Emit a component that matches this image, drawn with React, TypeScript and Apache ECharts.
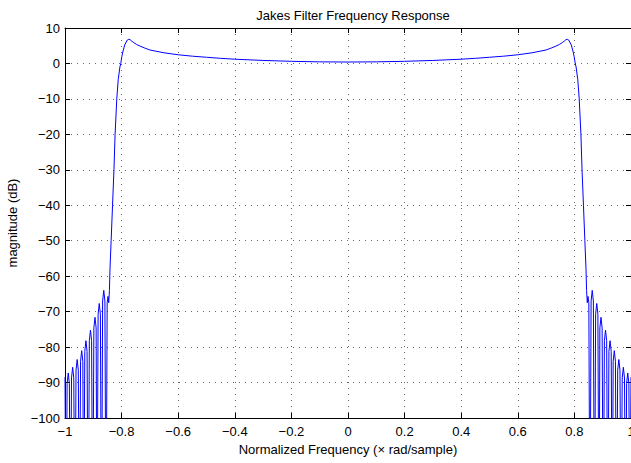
import React, { useEffect, useRef } from "react";
import * as echarts from "echarts";

// Left stop-band skirt (normalized frequency, dB); -140 marks a deep null (clipped)
const leftSkirtFreq = [
  -1.0, -0.996, -0.9925, -0.9885, -0.9845, -0.981, -0.977, -0.973, -0.969, -0.965,
  -0.961, -0.957, -0.953, -0.949, -0.945, -0.941, -0.937, -0.934, -0.93, -0.926,
  -0.922, -0.918, -0.914, -0.91, -0.906, -0.902, -0.898, -0.894, -0.89, -0.887,
  -0.883, -0.879, -0.875, -0.871, -0.867, -0.863, -0.859, -0.855, -0.851, -0.848,
  -0.8455,
];
const leftSkirtDb = [
  -88.5, -140, -90.3, -87.3, -90.3, -140, -88.7, -85.7, -88.7, -140,
  -86.5, -83.5, -86.5, -140, -84.0, -81.0, -84.0, -140, -81.2, -78.2,
  -81.2, -140, -78.2, -75.2, -78.2, -140, -74.6, -71.6, -74.6, -140,
  -70.7, -67.7, -70.7, -140, -67.0, -64.0, -67.0, -140, -67.5, -65.7,
  -67.5,
];

// Pass band (transition edges + flat part)
const passbandFreq = [
  -0.843, -0.841, -0.837, -0.832, -0.827, -0.823, -0.817, -0.812, -0.806, -0.803,
  -0.799, -0.794, -0.789, -0.78, -0.775, -0.77, -0.766, -0.759, -0.748, -0.735,
  -0.72, -0.7, -0.65, -0.6, -0.55, -0.5, -0.45, -0.4, -0.3, -0.2,
  -0.1, 0.0, 0.1, 0.2, 0.3, 0.4, 0.45, 0.5, 0.55, 0.6,
  0.65, 0.7, 0.72, 0.735, 0.748, 0.759, 0.766, 0.77, 0.775, 0.78,
  0.789, 0.794, 0.799, 0.803, 0.806, 0.812, 0.817, 0.823, 0.827, 0.832,
  0.837, 0.841, 0.843,
];
const passbandDb = [
  -64, -58, -50, -40, -30, -20, -10, -4.6, -1.0, 0.0,
  2.0, 3.8, 5.2, 6.6, 6.8, 6.7, 6.4, 6.0, 5.4, 4.9,
  4.4, 3.8, 3.0, 2.45, 2.05, 1.75, 1.45, 1.2, 0.85, 0.6,
  0.45, 0.4, 0.45, 0.6, 0.85, 1.2, 1.45, 1.75, 2.05, 2.45,
  3.0, 3.8, 4.4, 4.9, 5.4, 6.0, 6.4, 6.7, 6.8, 6.6,
  5.2, 3.8, 2.0, 0.0, -1.0, -4.6, -10, -20, -30, -40,
  -50, -58, -64,
];

// Right stop-band skirt
const rightSkirtFreq = [
  0.8455, 0.848, 0.851, 0.855, 0.859, 0.863, 0.867, 0.871, 0.875, 0.879,
  0.883, 0.887, 0.89, 0.894, 0.898, 0.902, 0.906, 0.91, 0.914, 0.918,
  0.922, 0.926, 0.93, 0.934, 0.937, 0.941, 0.945, 0.949, 0.953, 0.957,
  0.961, 0.965, 0.969, 0.973, 0.977, 0.981, 0.9845, 0.9885, 0.9925, 0.996,
  1.0,
];
const rightSkirtDb = [
  -67.5, -65.7, -67.5, -140, -67.0, -64.0, -67.0, -140, -70.7, -67.7,
  -70.7, -140, -74.6, -71.6, -74.6, -140, -78.2, -75.2, -78.2, -140,
  -81.2, -78.2, -81.2, -140, -84.0, -81.0, -84.0, -140, -86.5, -83.5,
  -86.5, -140, -88.7, -85.7, -88.7, -140, -90.3, -87.3, -90.3, -140,
  -88.5,
];

const xTicks = { min: -1, max: 1, interval: 0.2 };
const yTicks = { min: -100, max: 10, interval: 10 };

const FONT = "'Liberation Sans', Arial, Helvetica, sans-serif";

function fmt(v: number, digits: number): string {
  const r = Math.round(v * Math.pow(10, digits)) / Math.pow(10, digits);
  return String(r).replace("-", "\u2212");
}

export default function App() {
  const ref = useRef<HTMLDivElement>(null);
  useEffect(() => {
    document.body.style.margin = "0";
    if (!ref.current) return;
    const chart = echarts.init(ref.current, undefined, { renderer: "svg" });
    const freq = [...leftSkirtFreq, ...passbandFreq, ...rightSkirtFreq];
    const mag = [...leftSkirtDb, ...passbandDb, ...rightSkirtDb];
    const data = freq.map((f, i) => [f, mag[i]]);
    const gridLine = {
      show: true,
      lineStyle: { color: "#666", width: 1, type: [1, 5] as any },
    };
    const axisLine = { show: true, onZero: false, lineStyle: { color: "#000", width: 1 } };
    const tick = { show: true, inside: true, length: 5, lineStyle: { color: "#000" } };
    chart.setOption({
      animation: false,
      backgroundColor: "#fff",
      title: {
        text: "Jakes Filter Frequency Response",
        left: 348,
        top: 4,
        textAlign: "center",
        textStyle: { fontFamily: FONT, fontSize: 13, fontWeight: "normal", color: "#000" },
      },
      grid: {
        left: 65,
        right: 0,
        top: 28,
        bottom: 45,
        containLabel: false,
        outerBoundsMode: "none",
      },
      xAxis: [
        {
          type: "value",
          ...xTicks,
          position: "bottom",
          axisLine,
          axisTick: tick,
          splitLine: gridLine,
          axisLabel: {
            margin: 7,
            fontFamily: FONT,
            fontSize: 13,
            color: "#000",
            formatter: (v: number) => fmt(v, 1),
          },
          name: "Normalized Frequency (\u00d7 rad/sample)",
          nameLocation: "middle",
          nameGap: 25,
          nameTextStyle: { fontFamily: FONT, fontSize: 13, color: "#000" },
        },
        {
          type: "value",
          ...xTicks,
          position: "top",
          axisLine,
          axisTick: tick,
          splitLine: { show: false },
          axisLabel: { show: false },
        },
      ],
      yAxis: [
        {
          type: "value",
          ...yTicks,
          position: "left",
          axisLine,
          axisTick: tick,
          splitLine: gridLine,
          axisLabel: {
            margin: 5,
            fontFamily: FONT,
            fontSize: 13,
            color: "#000",
            formatter: (v: number) => fmt(v, 0),
          },
          name: "magnitude (dB)",
          nameLocation: "middle",
          nameGap: 46,
          nameTextStyle: { fontFamily: FONT, fontSize: 13, color: "#000" },
        },
        {
          type: "value",
          ...yTicks,
          position: "right",
          axisLine,
          axisTick: tick,
          splitLine: { show: false },
          axisLabel: { show: false },
        },
      ],
      series: [
        {
          type: "line",
          data,
          xAxisIndex: 0,
          yAxisIndex: 0,
          showSymbol: false,
          symbol: "none",
          clip: true,
          lineStyle: { color: "#0000ff", width: 1 },
        },
      ],
    });
    return () => chart.dispose();
  }, []);
  return <div ref={ref} style={{ width: 631, height: 463 }} />;
}
